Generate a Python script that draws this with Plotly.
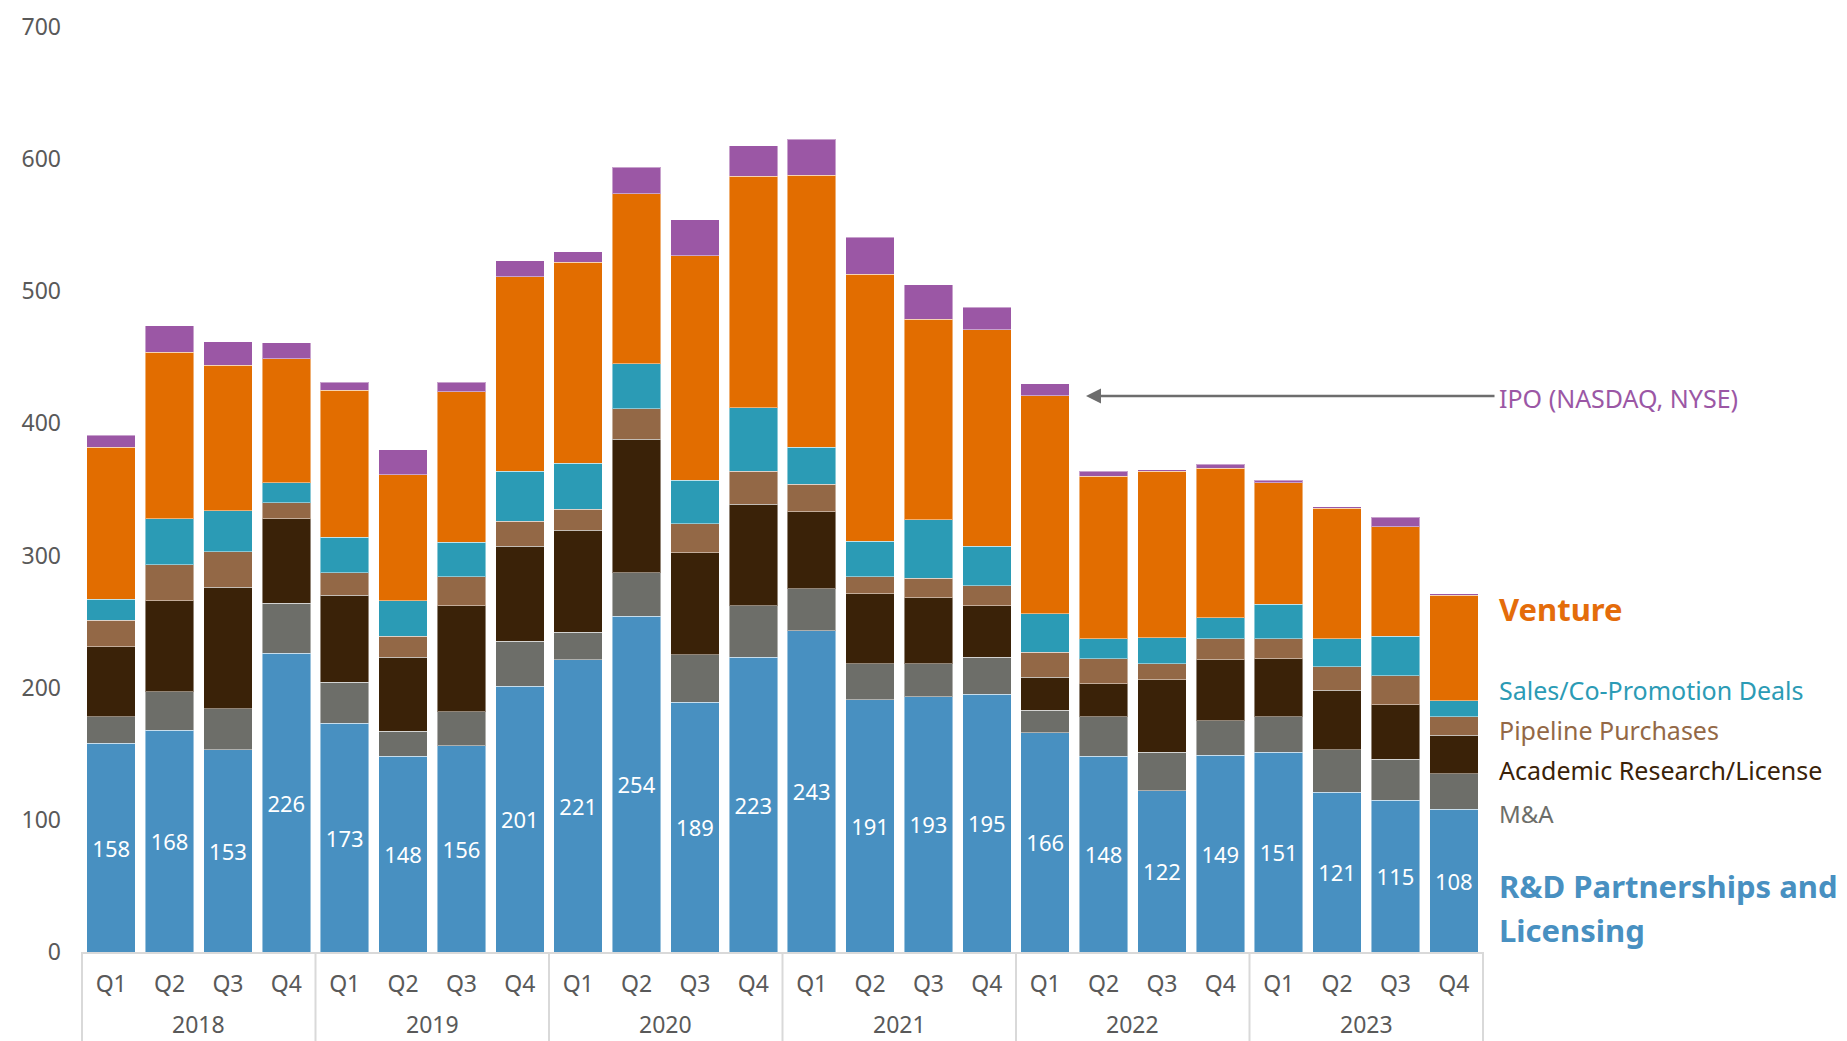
import plotly.graph_objects as go

years = ["2018", "2019", "2020", "2021", "2022", "2023"]
quarters = ["Q1", "Q2", "Q3", "Q4"]

rd_partnerships = [158, 168, 153, 226, 173, 148, 156, 201, 221, 254, 189, 223,
                   243, 191, 193, 195, 166, 148, 122, 149, 151, 121, 115, 108]
m_and_a = [20, 29, 31, 38, 31, 19, 26, 34, 21, 33, 36, 39,
           32, 27, 25, 28, 17, 30, 29, 26, 27, 32, 31, 27]
academic = [53, 69, 92, 64, 66, 56, 80, 72, 77, 101, 77, 77,
            58, 53, 50, 39, 25, 25, 55, 46, 44, 45, 41, 29]
pipeline = [20, 27, 27, 12, 17, 16, 22, 19, 16, 23, 22, 25,
            21, 13, 15, 15, 19, 19, 12, 16, 15, 18, 22, 14]
sales_copromo = [16, 35, 31, 15, 27, 27, 26, 38, 35, 34, 33, 48,
                 28, 27, 44, 30, 29, 15, 20, 16, 26, 21, 30, 12]
venture = [115, 126, 110, 94, 111, 95, 114, 147, 152, 129, 170, 175,
           206, 202, 152, 164, 165, 123, 126, 113, 92, 99, 83, 80]
ipo = [9, 20, 18, 12, 6, 19, 7, 12, 8, 20, 27, 23,
       27, 28, 26, 17, 9, 4, 1, 3, 2, 1, 7, 1]

x_years = [y for y in years for _ in quarters]
x_quarters = [q for _ in years for q in quarters]
categories = [f"{q} {y}" for y, q in zip(x_years, x_quarters)]

FONT = "Noto Sans"
TICK_COLOR = "#595959"
series = [
    ("R&D Partnerships and Licensing", rd_partnerships, "#4890C1"),
    ("M&A", m_and_a, "#6D6E69"),
    ("Academic Research/License", academic, "#3A2208"),
    ("Pipeline Purchases", pipeline, "#936846"),
    ("Sales/Co-Promotion Deals", sales_copromo, "#2B9BB5"),
    ("Venture", venture, "#E26D00"),
    ("IPO (NASDAQ, NYSE)", ipo, "#9B57A5"),
]

# page is offset by the browser's 8px body margin
OFF = 8
W, H = 1847, 1041
PLOT_L, PLOT_R, PLOT_T, PLOT_B = 82, 1483, 27, 952   # in page pixels

fig = go.Figure()
for i, (name, vals, col) in enumerate(series):
    kw = {}
    if i == 0:
        kw = dict(texttemplate="%{y}", textposition="inside",
                  insidetextanchor="middle", textangle=0,
                  textfont=dict(family=FONT, size=22, color="white"))
    fig.add_trace(go.Bar(x=categories, y=vals, name=name, marker_color=col,
                         marker_line=dict(color="rgba(255,255,255,0.45)", width=1),
                         hoverinfo="skip", **kw))

fig.update_layout(
    barmode="stack", bargap=0.17,
    width=W, height=H,
    margin=dict(l=PLOT_L - OFF, r=W - (PLOT_R - OFF), t=PLOT_T - OFF,
                b=H - (PLOT_B - OFF), autoexpand=False),
    plot_bgcolor="white", paper_bgcolor="white",
    showlegend=False,
    font=dict(family=FONT, size=23, color=TICK_COLOR),
)
fig.update_xaxes(
    type="category", tickmode="array", tickvals=categories, ticktext=x_quarters,
    showline=True, linecolor="#D9D9D9", linewidth=2, automargin=False,
    tickfont=dict(family=FONT, size=23, color=TICK_COLOR),
    showgrid=False, ticks="", ticklabelstandoff=10,
)
fig.update_yaxes(
    range=[0, 700], dtick=100, showgrid=False, zeroline=False, showline=False,
    ticks="", ticklabelstandoff=20, automargin=False,
    tickfont=dict(family=FONT, size=23, color=TICK_COLOR),
)

def px_x(px):
    return (px - PLOT_L) / (PLOT_R - PLOT_L)

def px_y(py):
    return (PLOT_B - py) / (PLOT_B - PLOT_T)

# year group labels and dividers (second level of the category axis)
n_q = len(quarters)
for k, yr in enumerate(years):
    fig.add_annotation(
        xref="x", yref="paper", x=k * n_q + (n_q - 1) / 2, y=px_y(1024),
        text=yr, showarrow=False, xanchor="center", yanchor="middle",
        borderpad=0,
        font=dict(family=FONT, size=23, color=TICK_COLOR),
    )
for k in range(len(years) + 1):
    fig.add_shape(
        type="line", xref="paper", yref="paper",
        x0=k / len(years), x1=k / len(years), y0=0, y1=px_y(1060),
        line=dict(color="#D9D9D9", width=2),
    )

labels = [
    ("IPO (NASDAQ, NYSE)", 398, "#9B57A5", 25, False),
    ("Venture", 609, "#E46C0A", 31, True),
    ("Sales/Co-Promotion Deals", 690, "#2B9BB5", 25, False),
    ("Pipeline Purchases", 730, "#936846", 25, False),
    ("Academic Research/License", 770, "#3A2208", 25, False),
    ("M&A", 813, "#6D6E69", 24, False),
    ("R&D Partnerships and", 886, "#4890C1", 31, True),
    ("Licensing", 930, "#4890C1", 31, True),
]
for text, py, col, size, bold in labels:
    fig.add_annotation(
        xref="paper", yref="paper", x=px_x(1497), y=px_y(py),
        text=f"<b>{text}</b>" if bold else text, showarrow=False,
        xanchor="left", yanchor="middle",
        font=dict(family=FONT, size=size, color=col),
    )

# arrow pointing from the IPO label to the bars
fig.add_annotation(
    xref="paper", yref="paper", x=px_x(1086), y=px_y(396),
    ax=1496 - 1086, ay=0, text="", showarrow=True,
    arrowhead=2, arrowsize=1.2, arrowwidth=2.5, arrowcolor="#6D6D6D",
)

fig.write_html("out.html")
